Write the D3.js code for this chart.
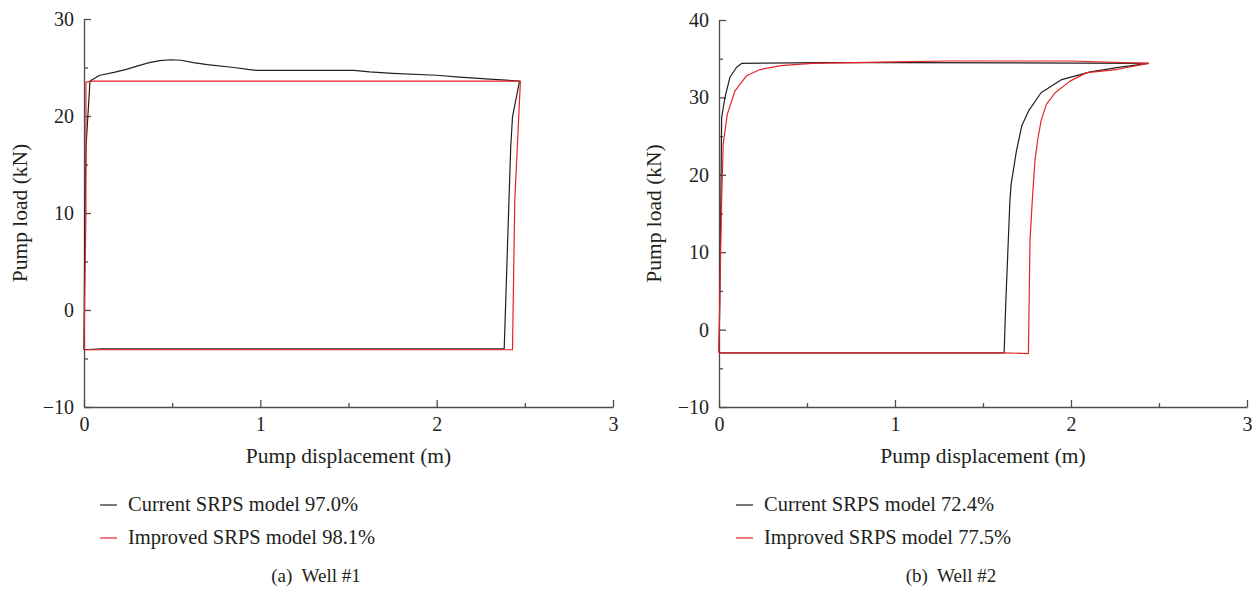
<!DOCTYPE html>
<html>
<head>
<meta charset="utf-8">
<script src="https://cdn.jsdelivr.net/npm/d3@7"></script>
<style>
  body { margin: 0; background: #fff; }
  text { font-family: "Liberation Serif", "DejaVu Serif", serif; fill: #231f20; }
</style>
</head>
<body>
<svg id="chart" width="1258" height="592"></svg>
<script>
// pump displacement (m), pump load (kN)
well1Current = [[0,-4.1],[0.005,10],[0.012,17],[0.034,23.6],[0.09,24.2],[0.17,24.5],[0.24,24.8],
  [0.31,25.2],[0.37,25.5],[0.43,25.7],[0.49,25.8],[0.55,25.75],[0.62,25.5],[0.70,25.3],[0.85,25.0],
  [0.93,24.8],[0.98,24.7],[1.53,24.7],[1.62,24.55],[1.75,24.4],[2.0,24.2],[2.13,24.0],[2.3,23.8],
  [2.47,23.6],[2.46,22.7],[2.43,19.9],[2.42,16.8],[2.41,11.3],[2.383,-4.0],[0.1,-4.0],[0,-4.1]]
well1Improved = [[0,-4.1],[0.011,10],[0.011,23.5],[0.05,23.6],[2.475,23.6],[2.443,11.3],
  [2.43,-4.1],[0,-4.1]]
well2Current = [[0,-3],[0.005,5],[0.01,15],[0.015,27.4],[0.034,30.0],[0.062,32.6],[0.1,33.9],
  [0.13,34.4],[0.6,34.5],[1.0,34.5],[2.44,34.4],[2.28,33.9],[2.11,33.3],[1.947,32.3],[1.83,30.6],
  [1.76,28.3],[1.72,26.3],[1.69,23.1],[1.66,18.8],[1.653,16.7],[1.63,3.8],[1.62,-3.0],[0,-3.0]]
well2Improved = [[0,-3],[0.005,5],[0.015,16.7],[0.024,24.0],[0.047,27.8],[0.09,30.8],[0.157,32.8],
  [0.233,33.6],[0.35,34.1],[0.53,34.4],[1.0,34.6],[1.3,34.7],[2.0,34.7],[2.44,34.4],[2.26,33.6],
  [2.09,33.2],[1.994,32.1],[1.91,30.6],[1.86,29.1],[1.83,27.0],[1.81,24.4],[1.795,21.8],[1.78,16.7],
  [1.767,11.5],[1.758,-3.1],[1.62,-3.0],[0,-3.0]]

xTicks = [0, 1, 2, 3]
xMinor = [0.5, 1.5, 2.5]
well1YTicks = [-10, 0, 10, 20, 30]
well1YMinor = [-5, 5, 15, 25]
well2YTicks = [-10, 0, 10, 20, 30, 40]
well2YMinor = [-5, 5, 15, 25, 35]

legendNames = ['Current SRPS model', 'Improved SRPS model']
well1Scores = ['97.0%', '98.1%']
well2Scores = ['72.4%', '77.5%']
captions = ['(a)  Well #1', '(b)  Well #2']
colours = ['#231f20', '#e3242b']

svg = d3.select('#chart')

panels = [
  { left: 84, right: 613, top: 19, bottom: 407, yMax: 30, yTicks: well1YTicks, yMinor: well1YMinor,
    series: [well1Current, well1Improved], scores: well1Scores, caption: captions[0],
    yLabelX: 27, legendX: 100, captionX: 316 },
  { left: 719, right: 1247, top: 20, bottom: 407, yMax: 40, yTicks: well2YTicks, yMinor: well2YMinor,
    series: [well2Current, well2Improved], scores: well2Scores, caption: captions[1],
    yLabelX: 661, legendX: 736, captionX: 951 }
]

panels.forEach(function(p) {
  x = d3.scaleLinear().domain([0, 3]).range([p.left, p.right])
  y = d3.scaleLinear().domain([-10, p.yMax]).range([p.bottom, p.top])
  g = svg.append('g')

  // axes: ticks point into the plot
  g.append('g').attr('transform', 'translate(0,' + p.bottom + ')')
   .call(d3.axisBottom(x).tickValues(xTicks).tickSizeInner(-7).tickSizeOuter(0).tickPadding(10)
   .tickFormat(d3.format('d')))
  g.append('g').attr('transform', 'translate(0,' + p.bottom + ')')
   .call(d3.axisBottom(x).tickValues(xMinor).tickSizeInner(-4).tickSizeOuter(0).tickFormat(''))
   .select('.domain').remove()
  g.append('g').attr('transform', 'translate(' + p.left + ',0)')
   .call(d3.axisLeft(y).tickValues(p.yTicks).tickSizeInner(-7).tickSizeOuter(0).tickPadding(10)
   .tickFormat(function(d) { return d < 0 ? '\u2212' + Math.abs(d) : d }))
  g.append('g').attr('transform', 'translate(' + p.left + ',0)')
   .call(d3.axisLeft(y).tickValues(p.yMinor).tickSizeInner(-4).tickSizeOuter(0).tickFormat(''))
   .select('.domain').remove()

  g.selectAll('.domain, .tick line').attr('stroke', '#4d4d4f').attr('stroke-width', 1.3)
  g.selectAll('.tick text').attr('font-size', 20).attr('font-family', '"Liberation Serif", serif')
   .attr('fill', '#231f20')

  line = d3.line().x(function(d) { return x(d[0]) }).y(function(d) { return y(d[1]) })
  p.series.forEach(function(s, i) {
    g.append('path').datum(s).attr('d', line).attr('fill', 'none')
     .attr('stroke', colours[i]).attr('stroke-width', 1.2).attr('stroke-linejoin', 'round')
  })

  g.append('text').attr('x', (p.left + p.right) / 2).attr('y', 463).attr('text-anchor', 'middle')
   .attr('font-size', 21.5).text('Pump displacement (m)')
  g.append('text').attr('transform', 'translate(' + p.yLabelX + ',' + ((p.top + p.bottom) / 2) + ') rotate(-90)')
   .attr('text-anchor', 'middle').attr('font-size', 21.5).text('Pump load (kN)')

  legendNames.forEach(function(name, i) {
    ly = 505 + i * 33
    g.append('line').attr('x1', p.legendX).attr('x2', p.legendX + 17).attr('y1', ly).attr('y2', ly)
     .attr('stroke', colours[i]).attr('stroke-width', 1.2)
    g.append('text').attr('x', p.legendX + 28).attr('y', ly + 6).attr('font-size', 20.5)
     .text(name + ' ' + p.scores[i])
  })

  g.append('text').attr('x', p.captionX).attr('y', 582).attr('text-anchor', 'middle')
   .attr('font-size', 19).style('white-space', 'pre').text(p.caption)
})
</script>
</body>
</html>
